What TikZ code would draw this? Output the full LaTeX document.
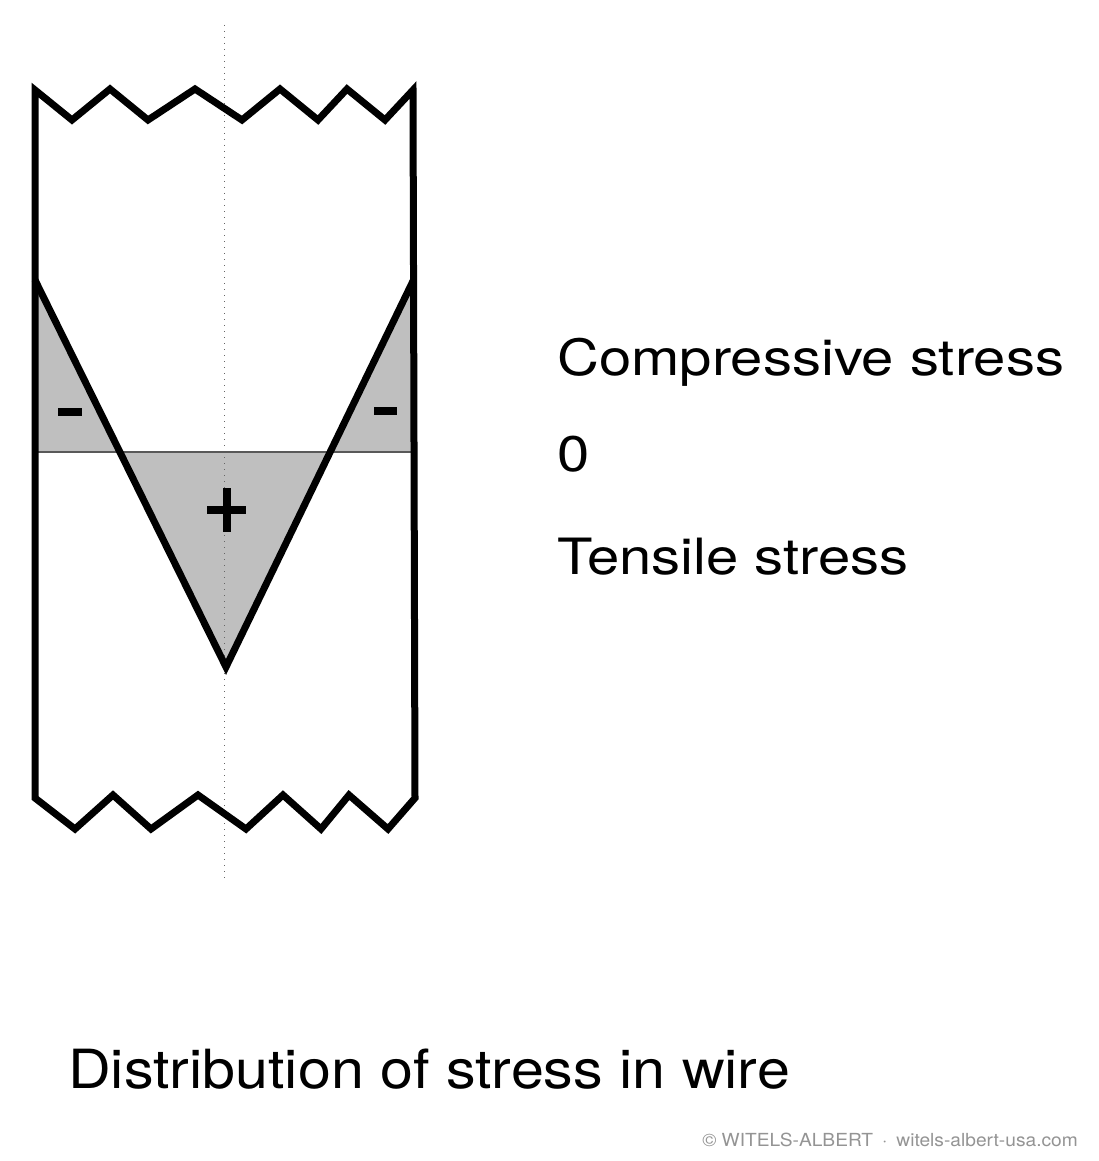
\documentclass[tikz,border=0pt]{standalone}
\usepackage{fontspec}
\setmainfont{TeX Gyre Heros}
\newfontfamily\labelfont[FakeStretch=1.16]{TeX Gyre Heros}
\newfontfamily\titlefont[FakeStretch=1.096]{TeX Gyre Heros}
\newfontfamily\markfont[FakeStretch=1.065]{TeX Gyre Heros}
\begin{document}
\begin{tikzpicture}[x=1pt,y=-1pt,
  outline/.style={line width=7pt,line join=miter,black},
  zeroline/.style={line width=1.4pt,black!65},
  axisline/.style={line width=0.8pt,black!60,dash pattern=on 1pt off 5pt},
  shade/.style={fill=black!25},
  label/.style={anchor=base west,inner sep=0pt,font=\labelfont\fontsize{50}{60}\selectfont},
  sign/.style={line width=8pt,black}]
\useasboundingbox (0,0) rectangle (1099,1161);
\fill[white] (0,0) rectangle (1099,1161);
% shaded stress areas
\fill[shade] (35,280) -- (120,452) -- (35,452) -- cycle;
\fill[shade] (413,281) -- (413,452) -- (330,452) -- cycle;
\fill[shade] (120,452) -- (330,452) -- (226,667) -- cycle;
% centre line
\draw[axisline] (224,25) -- (224,880);
% zero line
\draw[zeroline] (35,452) -- (413,452);
% wire outline
\draw[outline] (35,798) -- (35,90) -- (72,120) -- (110,89) -- (148,120) -- (195,89)
  -- (242,120) -- (280,89) -- (318,120) -- (347,89) -- (385,120) -- (413,90)
  -- (415,798) -- (388,829) -- (349,795) -- (321,829) -- (283,795) -- (246,829)
  -- (198,795) -- (151,829) -- (113,795) -- (75,829) -- cycle;
% stress profile
\draw[outline] (35,280) -- (226,667) -- (413,281);
% signs
\draw[sign] (58,412) -- (82,412);
\draw[sign] (374,411) -- (397,411);
\draw[sign] (207,510) -- (246,510) (227,488) -- (227,532);
% labels
\node[label] (comp) at (557,375) {Compressive stress};
\node[label] (zero) at (557,471) {0};
\node[label] (tens) at (557,574) {Tensile stress};
\node[anchor=base west,inner sep=0pt,font=\titlefont\fontsize{54}{64}\selectfont] (title) at (68,1088) {Distribution of stress in wire};
\node[anchor=base east,inner sep=0pt,text=black!42,font=\markfont\fontsize{18}{21}\selectfont] (mark) at (1078,1146) {© WITELS-ALBERT\enspace·\enspace witels-albert-usa.com};
\end{tikzpicture}
\end{document}
